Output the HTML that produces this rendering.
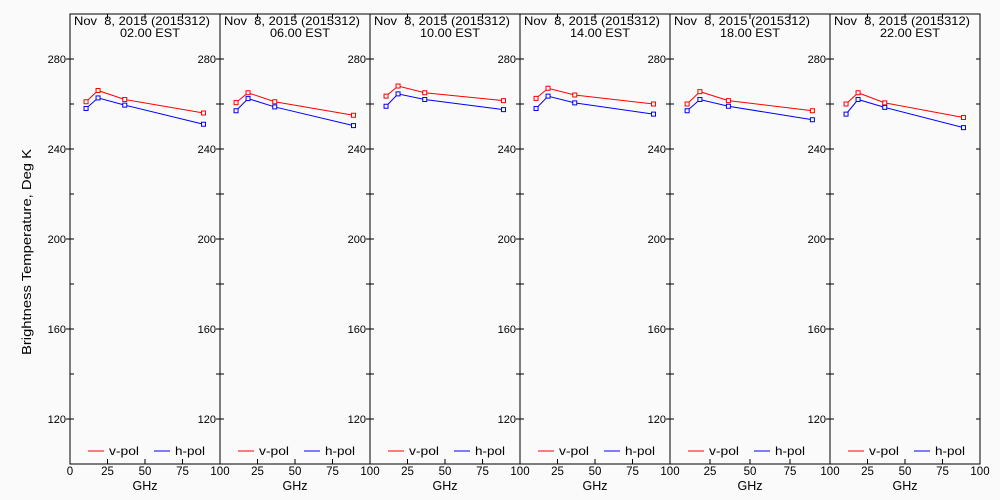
<!DOCTYPE html>
<html><head><meta charset="utf-8"><style>
body{margin:0;background:#fafafa;}
svg{display:block;font-family:"Liberation Sans",sans-serif;}
</style></head><body>
<svg id="c" width="1000" height="500">
<rect width="1000" height="500" fill="#fafafa"/>
<text x="31" y="252" font-size="13" text-anchor="middle" textLength="206" lengthAdjust="spacingAndGlyphs" transform="rotate(-90 31 252)">Brightness Temperature, Deg K</text>
</svg>
<script>
const hours=["02.00 EST","06.00 EST","10.00 EST","14.00 EST","18.00 EST","22.00 EST"];
const freqs=[10.7,18.7,36.5,89];
const vpol=[[261,266,262,256],[260.6,265,261,255],[263.5,268,265,261.5],[262.5,267,264,260],[260,265.5,261.5,257],[260,265,260.5,254]];
const hpol=[[258,262.7,259.5,251],[257,262.4,258.7,250.4],[259,264.5,262,257.5],[258,263.5,260.5,255.5],[257,262,259,253],[255.5,262,258.5,249.5]];
const yTicks=[120,160,200,240,280];
const xTicks=[0,25,50,75,100];
const edges=[70,220,370,520,670,830,980];
const svg=document.getElementById('c');
const NS='http://www.w3.org/2000/svg';
function mk(t,a,p){const e=document.createElementNS(NS,t);for(const k in a)e.setAttribute(k,a[k]);(p||svg).appendChild(e);return e;}
const Y=v=>464-(v-100)*2.25;
for(let p=0;p<6;p++){
  const x0=edges[p],x1=edges[p+1];
  const X=f=>x0+f*(x1-x0)/100;
  const g=mk('g',{});
  
  
  mk('rect',{x:x0,y:14,width:x1-x0,height:450,fill:'none',stroke:'#000','stroke-width':1},g);
  for(let v=100;v<=300;v+=20){const y=Y(v);const big=yTicks.includes(v);
    mk('line',{x1:x0-(big?4:0),x2:x0+4,y1:y,y2:y,stroke:'#000'},g);
    mk('line',{x1:x1-4,x2:x1,y1:y,y2:y,stroke:'#000'},g);}
  yTicks.forEach(v=>{const t=mk('text',{x:x0-4,y:Y(v)+4,'font-size':11,'text-anchor':'end'},g);t.textContent=v;
    
    });
  xTicks.forEach(f=>{mk('line',{x1:X(f),x2:X(f),y1:464,y2:459,stroke:'#000'},g);
    mk('line',{x1:X(f),x2:X(f),y1:14,y2:19,stroke:'#000'},g);
    if(p>0&&f==0)return;
    const t=mk('text',{x:X(f),y:475,'font-size':11.5,'text-anchor':'middle'},g);t.textContent=f;
    
    });
  const xl=mk('text',{x:(x0+x1)/2,y:490,'font-size':12.5,'text-anchor':'middle'},g);xl.textContent='GHz';
  
  
  const t1=mk('text',{x:x0+4,y:25,'font-size':12,textLength:136,lengthAdjust:'spacingAndGlyphs'},g);t1.textContent='Nov  8, 2015 (2015312)';t1.style.whiteSpace='pre';
  
  
  const t2=mk('text',{x:x0+80,y:37,'font-size':12,'text-anchor':'middle',textLength:60,lengthAdjust:'spacingAndGlyphs'},g);t2.textContent=hours[p];
  
  
  [[vpol[p],'#ff0000','v-pol'],[hpol[p],'#0000ff','h-pol']].forEach(([d,c,n])=>{
    const pts=d.map((v,i)=>X(freqs[i])+','+Y(v)).join(' ');
    const l=mk('polyline',{points:pts,fill:'none',stroke:c,'stroke-width':1},g);
    
    
    d.forEach((v,i)=>{const r=mk('rect',{x:X(freqs[i])-2,y:Y(v)-2,width:4,height:4,fill:'#fafafa',stroke:c},g);
      
      });
  });
  const lx=x0+18;
  [['#ff0000','v-pol',0],['#0000ff','h-pol',66]].forEach(([c,n,o])=>{
    mk('line',{x1:lx+o,x2:lx+o+16,y1:451,y2:451,stroke:c},g);
    const t=mk('text',{x:lx+o+21,y:455,'font-size':12,textLength:30,lengthAdjust:'spacingAndGlyphs'},g);t.textContent=n;
    
    });
}
</script>
</body></html>
